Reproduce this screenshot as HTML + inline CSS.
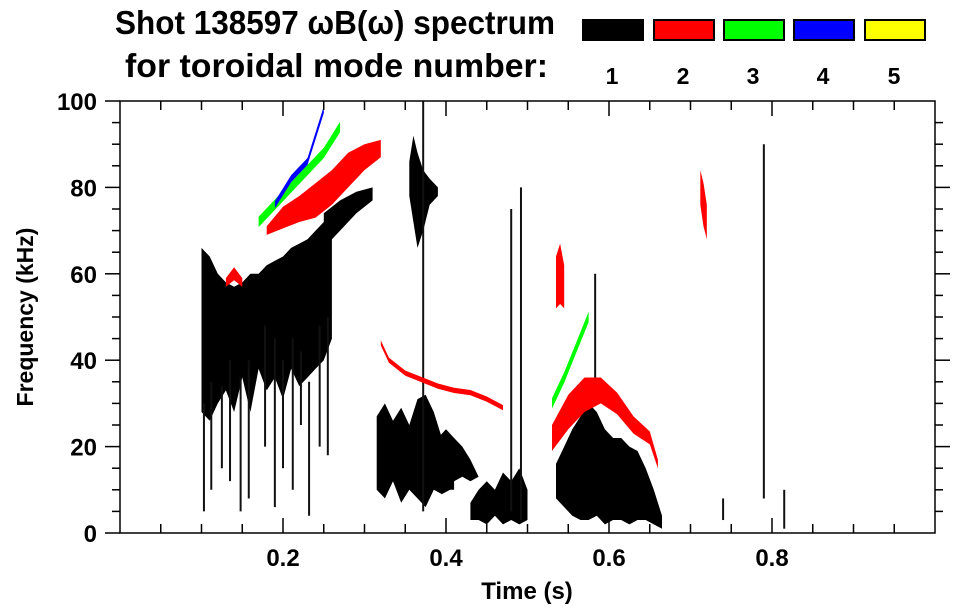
<!DOCTYPE html>
<html><head><meta charset="utf-8"><style>
html,body{margin:0;padding:0;background:#fff;}
svg{display:block;font-family:"Liberation Sans",sans-serif;font-weight:bold;}
</style></head><body>
<svg id="chart" width="963" height="615" viewBox="0 0 963 615">
<g>
<text x="115" y="34" font-size="33" textLength="440" lengthAdjust="spacingAndGlyphs">Shot 138597 ωB(ω) spectrum</text>
<text x="125" y="77" font-size="33" textLength="423" lengthAdjust="spacingAndGlyphs">for toroidal mode number:</text>
</g>
<g id="legend"></g>
<g id="marks"></g>
<g id="axes"></g>
<text x="527" y="599" font-size="24" text-anchor="middle">Time (s)</text>
<text transform="translate(33,317) rotate(-90)" font-size="23" text-anchor="middle">Frequency (kHz)</text>
</svg>
<script>
const modeNames = ["1","2","3","4","5"];
const modeColors = ["#000000","#ff0000","#00ff00","#0000ff","#ffff00"];
const xTicks = [0.2,0.4,0.6,0.8];
const yTicks = [0,20,40,60,80,100];

// Black (n=1) regions: times, lower and upper frequencies (kHz)
const blackA_t = [0.100,0.11,0.12,0.13,0.14,0.15,0.16,0.17,0.18,0.19,0.20,0.21,0.22,0.23,0.24,0.25,0.26];
const blackA_hi = [66,64,60,58,57,58,60,60,62,63,64,66,67,68,70,72,74];
const blackA_lo = [28,26,30,33,28,36,28,38,33,36,31,38,34,36,38,40,45];
const blackA2_t = [0.25,0.27,0.29,0.31];
const blackA2_hi = [74,77,79,80];
const blackA2_lo = [66,70,74,77];
const blackB_t = [0.315,0.325,0.335,0.345,0.355,0.365,0.375,0.385,0.395,0.405,0.41];
const blackB_hi = [27,30,26,29,25,31,32,28,22,18,12];
const blackB_lo = [10,8,12,7,10,8,6,10,9,10,10];
const blackB2_t = [0.39,0.40,0.41,0.42,0.43,0.44];
const blackB2_hi = [22,24,22,20,17,13];
const blackB2_lo = [12,10,12,13,12,13];
const blackHigh_t = [0.355,0.36,0.365,0.372,0.38,0.39];
const blackHigh_hi = [86,92,88,84,82,80];
const blackHigh_lo = [78,72,66,70,76,78];
const blackC_t = [0.43,0.44,0.45,0.46,0.47,0.48,0.49,0.50];
const blackC_hi = [7,10,12,10,14,12,15,10];
const blackC_lo = [3,3,2,4,2,3,2,3];
const blackD_t = [0.535,0.545,0.555,0.565,0.575,0.585,0.595,0.605,0.615,0.625,0.635,0.645,0.655,0.665];
const blackD_hi = [16,20,24,27,30,28,24,22,22,20,19,15,10,4];
const blackD_lo = [8,6,4,3,3,4,2,3,3,2,3,3,2,1];

// Black vertical streaks
const streak_t = [0.103,0.112,0.125,0.135,0.148,0.158,0.178,0.19,0.2,0.212,0.222,0.232,0.245,0.255,0.372,0.48,0.492,0.583,0.79,0.815,0.74];
const streak_lo = [5,10,15,12,5,8,20,6,15,10,25,4,20,18,5,5,3,35,8,1,3];
const streak_hi = [30,35,34,40,36,40,48,45,40,45,42,35,48,50,100,75,80,60,90,10,8];

// Coloured mode bands: time, centre frequency, half-width
const red1_t = [0.18,0.20,0.22,0.24,0.26,0.28,0.30,0.32];
const red1_c = [70,73,75,77,80,84,87,89];
const red1_w = [1,2.5,3,4,4,4,3,2];
const red2_t = [0.32,0.33,0.35,0.37,0.39,0.41,0.43,0.45,0.47];
const red2_c = [44,40,37,35.5,34,33,32.5,31,29];
const red2_w = [0.6,0.6,0.6,0.6,0.6,0.6,0.6,0.6,0.6];
const red3_t = [0.53,0.55,0.57,0.59,0.61,0.63,0.65,0.66];
const red3_c = [22,28,32,33,30,25,22,16];
const red3_w = [3,4,4,3,2.5,2,1.5,1];
const red4_t = [0.535,0.54,0.545];
const red4_c = [58,60,57];
const red4_w = [6,7,5];
const red5_t = [0.712,0.716,0.72];
const red5_c = [80,76,72];
const red5_w = [4,5,4];
const red6_t = [0.13,0.14,0.15];
const red6_c = [58,60,58];
const red6_w = [1,1.5,1];
const green1_t = [0.17,0.19,0.21,0.23,0.25,0.27];
const green1_c = [72,76,80,84,88,94];
const green1_w = [1.2,1.2,1.2,1.2,1.2,1.2];
const green2_t = [0.53,0.545,0.56,0.575];
const green2_c = [30,36,43,50];
const green2_w = [1.2,1.2,1.2,1.2];
const blue1_t = [0.19,0.21,0.23,0.25];
const blue1_c = [76,82,86,98];
const blue1_w = [0.8,0.8,0.8,0.8];

const X0 = 120, X1 = 935, Y0 = 533, Y1 = 101;
function xs(t){ return X0 + t*(X1-X0); }
function ys(f){ return Y0 - f/100*(Y0-Y1); }
const NS = "http://www.w3.org/2000/svg";
const marks = document.getElementById('marks');
const axes = document.getElementById('axes');
const legend = document.getElementById('legend');

function region(ts, lo, hi, color, name){
  let d = "";
  for(let i=0;i<ts.length;i++) d += (i?"L":"M")+xs(ts[i]).toFixed(1)+","+ys(hi[i]).toFixed(1);
  for(let i=ts.length-1;i>=0;i--) d += "L"+xs(ts[i]).toFixed(1)+","+ys(lo[i]).toFixed(1);
  const p = document.createElementNS(NS,'path');
  p.setAttribute('d', d+"Z");
  p.setAttribute('fill', color);
  
  
  marks.appendChild(p);
}
function band(ts, c, w, color, name){
  const lo = c.map((v,i)=>v-w[i]);
  const hi = c.map((v,i)=>v+w[i]);
  region(ts, lo, hi, color, name);
}
region(blackA_t, blackA_lo, blackA_hi, "#000", "mode1-region-a");
region(blackA2_t, blackA2_lo, blackA2_hi, "#000", "mode1-region-a2");
region(blackB_t, blackB_lo, blackB_hi, "#000", "mode1-region-b");
region(blackB2_t, blackB2_lo, blackB2_hi, "#000", "mode1-region-b2");
region(blackHigh_t, blackHigh_lo, blackHigh_hi, "#000", "mode1-region-high");
region(blackC_t, blackC_lo, blackC_hi, "#000", "mode1-region-c");
region(blackD_t, blackD_lo, blackD_hi, "#000", "mode1-region-d");
for(let i=0;i<streak_t.length;i++){
  const l = document.createElementNS(NS,'line');
  l.setAttribute('x1', xs(streak_t[i])); l.setAttribute('x2', xs(streak_t[i]));
  l.setAttribute('y1', ys(streak_lo[i])); l.setAttribute('y2', ys(streak_hi[i]));
  l.setAttribute('stroke', '#111'); l.setAttribute('stroke-width', '2');
  
  
  marks.appendChild(l);
}
band(red1_t, red1_c, red1_w, "#ff0000", "mode2-band-1");
band(red2_t, red2_c, red2_w, "#ff0000", "mode2-band-2");
band(red3_t, red3_c, red3_w, "#ff0000", "mode2-band-3");
band(red4_t, red4_c, red4_w, "#ff0000", "mode2-band-4");
band(red5_t, red5_c, red5_w, "#ff0000", "mode2-band-5");
band(red6_t, red6_c, red6_w, "#ff0000", "mode2-band-6");
band(green1_t, green1_c, green1_w, "#00ff00", "mode3-band-1");
band(green2_t, green2_c, green2_w, "#00ff00", "mode3-band-2");
band(blue1_t, blue1_c, blue1_w, "#0000ff", "mode4-band-1");

function line(x1,y1,x2,y2,name,w){
  const l = document.createElementNS(NS,'line');
  l.setAttribute('x1',x1); l.setAttribute('y1',y1); l.setAttribute('x2',x2); l.setAttribute('y2',y2);
  l.setAttribute('stroke','#000'); l.setAttribute('stroke-width', w||1.5);
  
  
  axes.appendChild(l);
}
function text(x,y,s,anchor,size,name,parent){
  const t = document.createElementNS(NS,'text');
  t.setAttribute('x',x); t.setAttribute('y',y); t.setAttribute('text-anchor',anchor);
  t.setAttribute('font-size',size); t.textContent = s;
  
  
  (parent||axes).appendChild(t);
}
const frame = document.createElementNS(NS,'rect');
frame.setAttribute('x',X0); frame.setAttribute('y',Y1); frame.setAttribute('width',X1-X0); frame.setAttribute('height',Y0-Y1);
frame.setAttribute('fill','none'); frame.setAttribute('stroke','#000'); frame.setAttribute('stroke-width','1.5');


axes.appendChild(frame);
for(let t=0.05;t<1;t+=0.05){
  const major = Math.abs(t*5-Math.round(t*5))<1e-6;
  const len = major?15:9;
  line(xs(t),Y0,xs(t),Y0-len,'x-tick');
  line(xs(t),Y1,xs(t),Y1+len,'x-tick-top');
}
for(let f=5;f<100;f+=5){
  const major = f%20===0;
  const len = major?15:8;
  line(X0,ys(f),X0-len,ys(f),'y-tick');
  line(X1,ys(f),X1+len,ys(f),'y-tick-right');
}
line(X0-15,ys(0),X0,ys(0),'y-tick');
line(X0-15,ys(100),X0,ys(100),'y-tick');
xTicks.forEach(t=>text(xs(t),566,String(t),'middle',24,'x-tick-label'));
yTicks.forEach(f=>text(97,ys(f)+9,String(f),'end',24,'y-tick-label'));

const boxX = [582,653,723,793,864];
modeNames.forEach((m,i)=>{
  const r = document.createElementNS(NS,'rect');
  r.setAttribute('x',boxX[i]+1); r.setAttribute('y',20); r.setAttribute('width',60); r.setAttribute('height',20);
  r.setAttribute('fill',modeColors[i]); r.setAttribute('stroke','#000'); r.setAttribute('stroke-width','2');
  
  
  legend.appendChild(r);
  text(boxX[i]+30,84,m,'middle',23,'legend-label-'+m,legend);
});
</script>
</body></html>
